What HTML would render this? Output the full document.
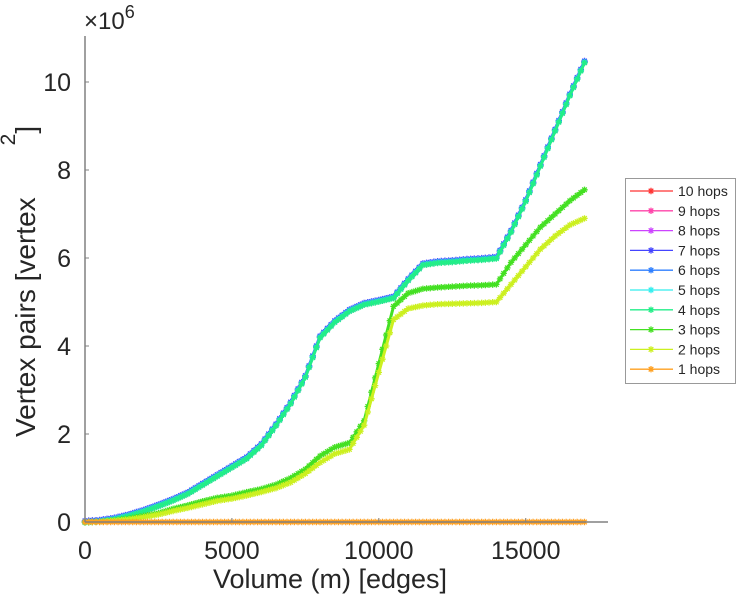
<!DOCTYPE html>
<html><head><meta charset="utf-8">
<style>
html,body{margin:0;padding:0;background:#fff;}
svg{display:block;font-family:"Liberation Sans",sans-serif;}
</style></head>
<body>
<svg id="chart" width="743" height="600" viewBox="0 0 743 600">
  <g id="plot"></g>
  <g id="axes"></g>
  <text x="84" y="29" font-size="24" fill="#262626">×10<tspan font-size="18" dy="-11">6</tspan></text>
  <text transform="translate(35,437) rotate(-90)" font-size="28" fill="#262626">Vertex pairs [vertex<tspan dx="52" dy="-20" font-size="21">2</tspan><tspan dy="20">]</tspan></text>
  <text x="330" y="588" text-anchor="middle" font-size="27" fill="#262626">Volume (m) [edges]</text>
  <g id="legend"></g>
</svg>
<script>
const xValues = [0,500,1000,1500,2000,2500,3000,3500,4000,4500,5000,5500,6000,6500,7000,7500,8000,8500,9000,9500,10000,10500,11000,11500,12000,12500,13000,13500,14000,14500,15000,15500,16000,16500,17000];
const manyHopsValues = [0,0.02,0.07,0.15,0.25,0.37,0.5,0.65,0.85,1.05,1.25,1.45,1.75,2.2,2.7,3.3,4.2,4.55,4.8,4.95,5.02,5.1,5.5,5.85,5.9,5.92,5.95,5.97,6.0,6.6,7.3,8.1,8.9,9.7,10.45];
const hops3Values = [0,0.01,0.04,0.08,0.14,0.2,0.3,0.38,0.47,0.55,0.6,0.68,0.75,0.85,1.0,1.2,1.5,1.7,1.8,2.3,3.6,4.9,5.2,5.3,5.33,5.35,5.37,5.38,5.4,5.9,6.3,6.7,7.0,7.3,7.55];
const hops2Values = [0,0.005,0.03,0.06,0.11,0.17,0.25,0.32,0.4,0.48,0.53,0.6,0.68,0.77,0.9,1.1,1.35,1.55,1.65,2.2,3.4,4.6,4.85,4.92,4.95,4.96,4.97,4.98,5.0,5.4,5.8,6.2,6.5,6.75,6.9];
const hops1Values = [0,0,0,0,0,0,0,0,0,0,0,0,0,0,0,0,0,0,0,0,0,0,0,0,0,0,0,0,0,0,0,0,0,0,0];
const seriesLabels = ["10 hops","9 hops","8 hops","7 hops","6 hops","5 hops","4 hops","3 hops","2 hops","1 hops"];
const seriesColors = ["#ff3333","#ff44aa","#cc44ff","#4444ff","#2f7fff","#33eeee","#22ee88","#44e022","#ccf020","#ffa020"];
const xTicks = [0,5000,10000,15000];
const yTicks = [0,2,4,6,8,10];

const NS="http://www.w3.org/2000/svg";
const X0=85,X1=608,Y0=522,Y1=38,XMAX=17800,YMAX=11;
const sx=v=>X0+(v/XMAX)*(X1-X0);
const sy=v=>Y0-(v/YMAX)*(Y0-Y1);
function mk(tag,attrs,parent){const e=document.createElementNS(NS,tag);for(const k in attrs)e.setAttribute(k,attrs[k]);parent.appendChild(e);return e;}
const seriesData=[manyHopsValues,manyHopsValues,manyHopsValues,manyHopsValues,manyHopsValues,manyHopsValues,manyHopsValues,hops3Values,hops2Values,hops1Values];
const seriesOffset=[0,0,0,-1.2,-0.6,0.2,0.6,0,0,0];
const plot=document.getElementById('plot');
function star(g,cx,cy,col){
  const r=3.2;
  mk('path',{d:`M${cx-r},${cy}H${cx+r}M${cx},${cy-r}V${cy+r}M${cx-2.3},${cy-2.3}L${cx+2.3},${cy+2.3}M${cx-2.3},${cy+2.3}L${cx+2.3},${cy-2.3}`,stroke:col,'stroke-width':1.3,fill:'none'},g);
}
for(let s=0;s<seriesData.length;s++){
  const g=mk('g',{transform:`translate(0,${seriesOffset[s]})`},plot);
  
  
  const vals=seriesData[s];
  const pts=xValues.map((x,i)=>sx(x)+','+sy(vals[i])).join(' ');
  mk('polyline',{points:pts,fill:'none',stroke:seriesColors[s],'stroke-width':3},g);
  for(let i=0;i<xValues.length;i++){
    star(g,sx(xValues[i]),sy(vals[i]),seriesColors[s]);
    if(i<xValues.length-1){
      for(let k=1;k<4;k++){const t=k/4;star(g,sx(xValues[i]+(xValues[i+1]-xValues[i])*t),sy(vals[i]+(vals[i+1]-vals[i])*t),seriesColors[s]);}
    }
  }
}
const axes=document.getElementById('axes');
const xa=mk('line',{x1:X0,y1:Y0,x2:X1,y2:Y0,stroke:'#808080','stroke-width':1.5},axes);


const ya=mk('line',{x1:X0,y1:Y0,x2:X0,y2:Y1-2,stroke:'#808080','stroke-width':1.5},axes);


xTicks.forEach(t=>{
  mk('line',{x1:sx(t),y1:Y0,x2:sx(t),y2:Y0-4,stroke:'#808080'},axes);
  const tx=mk('text',{x:sx(t),y:559,'text-anchor':'middle','font-size':25,fill:'#262626'},axes);
  tx.textContent=t;
  
  
});
yTicks.forEach(t=>{
  mk('line',{x1:X0,y1:sy(t),x2:X0+4,y2:sy(t),stroke:'#808080'},axes);
  const tx=mk('text',{x:71,y:sy(t)+9,'text-anchor':'end','font-size':25,fill:'#262626'},axes);
  tx.textContent=t;
  
  
});
const lg=document.getElementById('legend');
mk('rect',{x:625.5,y:178.5,width:110,height:205,fill:'#fff',stroke:'#999','stroke-width':1},lg);
seriesLabels.forEach((lab,i)=>{
  const y=191+i*19.8;
  const e=mk('g',{},lg);
  
  
  mk('line',{x1:630,y1:y,x2:673,y2:y,stroke:seriesColors[i],'stroke-width':1.3},e);
  star(e,651,y,seriesColors[i]);
  const tx=mk('text',{x:678,y:y+5,'font-size':14,fill:'#262626'},e);
  tx.textContent=lab;
});
</script>
</body></html>
